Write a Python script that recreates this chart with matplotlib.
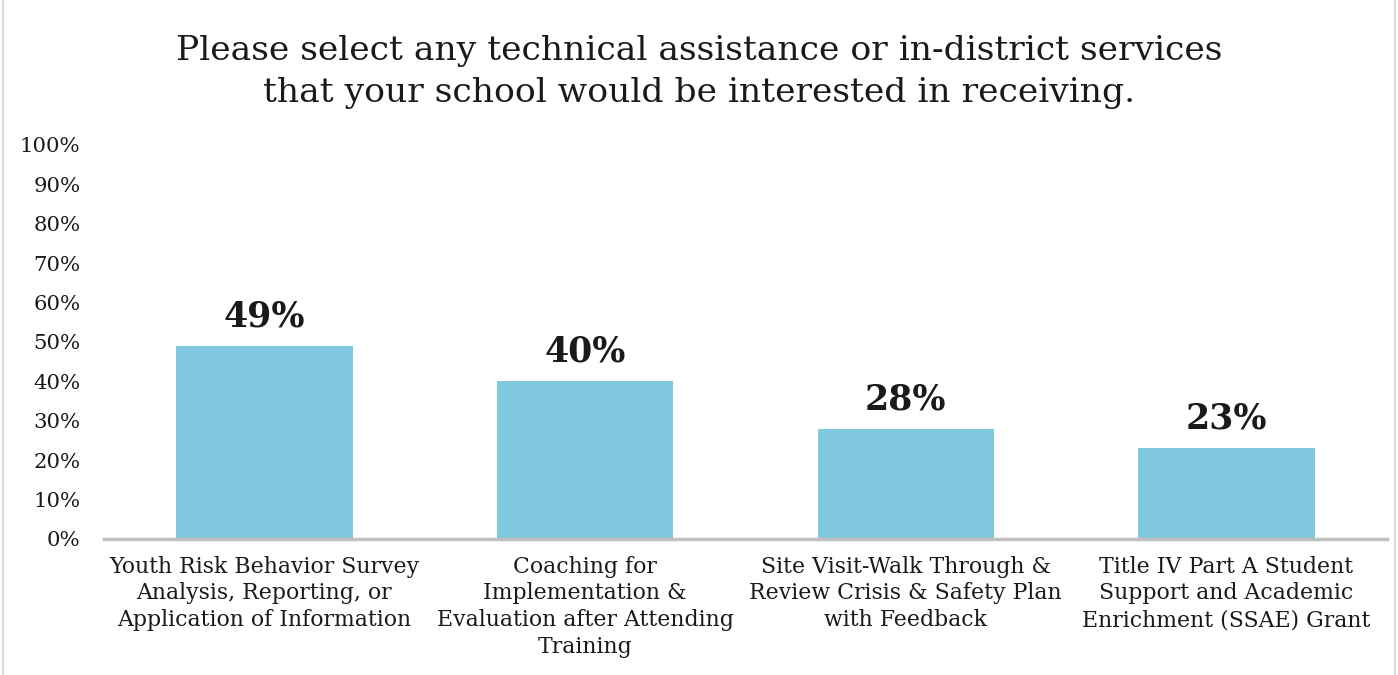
import numpy as np
import matplotlib.pyplot as plt
from matplotlib.patches import Rectangle

categories = ['Youth Risk Behavior Survey\nAnalysis, Reporting, or\nApplication of Information',
              'Coaching for\nImplementation &\nEvaluation after Attending\nTraining',
              'Site Visit-Walk Through &\nReview Crisis & Safety Plan\nwith Feedback',
              'Title IV Part A Student\nSupport and Academic\nEnrichment (SSAE) Grant']
values = [49, 40, 28, 23]
yticks = np.arange(0, 101, 10)

plt.rcParams['font.family'] = 'DejaVu Serif'

fig = plt.figure(figsize=(13.98, 6.75), dpi=100)
ax = fig.add_axes([0.0744, 0.2015, 0.9176, 0.5837])

x = np.arange(len(values))
ax.bar(x, values, width=0.55, color='#7FC8DE', zorder=2)
for xi, v in zip(x, values):
    ax.text(xi, v + 3.2, f'{v}%', ha='center', va='bottom', fontsize=25, fontweight='bold', color='#1a1a1a')

ax.set_xlim(-0.5, len(values) - 0.5)
ax.set_ylim(0, 100)
ax.set_yticks(yticks)
ax.set_yticklabels([f'{t}%' for t in yticks], fontsize=15.3, color='#1a1a1a')
ax.set_xticks(x)
ax.set_xticklabels(categories, fontsize=15.8, color='#1a1a1a', linespacing=1.28, va='top')
ax.tick_params(axis='x', length=0, pad=12)
ax.tick_params(axis='y', length=0, pad=17)
for s in ['top', 'right', 'left']:
    ax.spines[s].set_visible(False)
ax.spines['bottom'].set_color('#BFBFBF')
ax.spines['bottom'].set_linewidth(2.5)

fig.suptitle('Please select any technical assistance or in-district services\nthat your school would be interested in receiving.',
             y=0.948, fontsize=24.8, color='#1a1a1a', linespacing=1.38)

fig.patches.append(Rectangle((0.002, -0.01), 0.996, 1.05, transform=fig.transFigure,
                             fill=False, edgecolor='#D5E3E0', linewidth=1.5))

fig.savefig('out.png', dpi=100)
